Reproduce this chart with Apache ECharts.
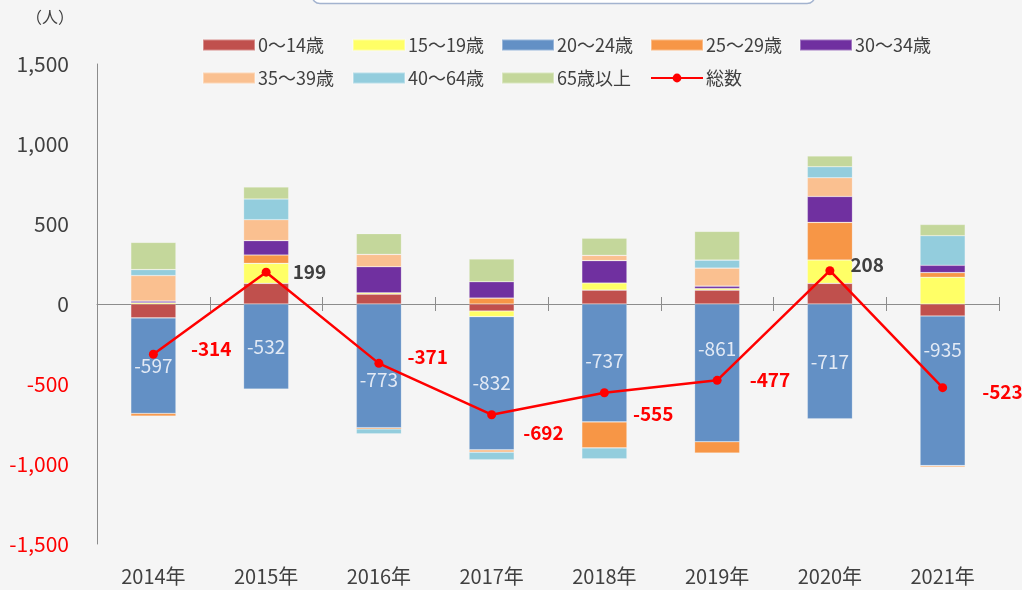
<!DOCTYPE html>
<html>
<head>
<meta charset="utf-8">
<script src="https://cdn.jsdelivr.net/npm/echarts@6/dist/echarts.min.js"></script>
<style>
html,body{margin:0;padding:0;background:#f5f5f5;}
#chart{width:1022px;height:590px;}
</style>
</head>
<body>
<div id="chart"></div>
<script>
// 年次
const years = ['2014年','2015年','2016年','2017年','2018年','2019年','2020年','2021年'];
// 年齢別の転入超過数（人）
const age0to14  = [-87, 129,   62,  -44,   87,   87,  129,  -75];
const age15to19 = [  8, 125,    8,  -35,   44,   10,  146,  167];
const age20to24 = [-597,-532, -773, -832, -737, -861, -717, -935];
const age25to29 = [-17,  52,   -8,   37, -162,  -70,  235,   29];
const age30to34 = [ 10,  90,  163,  102,  140,   15,  162,   46];
const age35to39 = [160, 131,   77,  -16,   33,  112,  117,  -10];
const age40to64 = [ 37, 129,  -30,  -46,  -68,   50,   69,  185];
const age65over = [170,  75,  130,  142,  108,  180,   67,   70];
// 総数
const totals = [-314, 199, -371, -692, -555, -477, 208, -523];
// y軸目盛
const yTicks = {min: -1500, max: 1500, step: 500};

const seriesNames = ['0～14歳','15～19歳','20～24歳','25～29歳','30～34歳','35～39歳','40～64歳','65歳以上'];
const seriesData = [age0to14, age15to19, age20to24, age25to29, age30to34, age35to39, age40to64, age65over];
const colors = ['#c0504d','#ffff66','#6390c5','#f79646','#7030a0','#fac090','#93cddd','#c4d79b'];
// ラベルの位置ずらし（線と重ならないように）
const totalLabelOffsets = [[28,-5],[17,0],[19,-7],[22,18],[19,21],[23,-1],[11,-6],[30,4]];
const blueLabelOffsets = [[0,0],[0,0],[0,14],[0,0],[0,-2],[0,-24],[0,0],[0,-41]];

const font = '"Noto Sans CJK JP", "Noto Sans", sans-serif';
let myChart = echarts.init(document.getElementById('chart'));

let barSeries = seriesNames.map((name, i) => ({
  name: name,
  type: 'bar',
  stack: 'age',
  barWidth: '40%',
  data: i === 2
    ? seriesData[i].map((v, j) => ({value: v, label: {offset: blueLabelOffsets[j]}}))
    : seriesData[i],
  itemStyle: {color: colors[i], borderColor: 'rgba(255,255,255,0.35)', borderWidth: 0.6},
  label: i === 2 ? {
    show: true,
    position: 'inside',
    color: '#e3eaf5',
    fontSize: 19,
    fontFamily: font
  } : {show: false},
  z: 2
}));

let legendPos = [
  [202, 36], [352, 36], [501, 36], [650, 36], [799, 36],
  [202, 69], [352, 69], [501, 69], [650, 69]
];
let legendNames = seriesNames.concat(['総数']);

myChart.setOption({
  backgroundColor: '#f5f5f5',
  textStyle: {fontFamily: font},
  graphic: [{
    type: 'rect',
    shape: {x: 312, y: -20, width: 503, height: 23.5, r: 8},
    style: {fill: '#ffffff', stroke: '#a3b3cf', lineWidth: 1.5}
  }, {
    type: 'text',
    left: 26,
    top: 9,
    style: {text: '（人）', fill: '#404040', fontSize: 16, fontFamily: font}
  }],
  legend: legendNames.map((n, i) => ({
    data: [{name: n, icon: i < 8 ? 'rect' : undefined}],
    left: legendPos[i][0],
    top: legendPos[i][1],
    padding: 0,
    itemWidth: 52,
    itemHeight: 11,
    itemGap: 0,
    textStyle: {fontSize: 18, color: '#404040', fontFamily: font, padding: [0, 0, 0, -2]}
  })),
  grid: {left: 97, right: 23, top: 64, bottom: 46},
  xAxis: [{
    type: 'category',
    data: years,
    axisLine: {onZero: true, lineStyle: {color: '#8c8c8c', width: 1}},
    axisTick: {show: true, length: 7, lineStyle: {color: '#8c8c8c'}},
    axisLabel: {show: false}
  }, {
    // 0の線の上側に出る目盛
    type: 'category',
    data: years,
    position: 'bottom',
    axisLine: {show: true, onZero: true, onZeroAxisIndex: 1, lineStyle: {color: 'rgba(0,0,0,0)'}},
    axisTick: {show: true, inside: true, length: 7, lineStyle: {color: '#8c8c8c'}},
    axisLabel: {show: false}
  }, {
    type: 'category',
    data: years,
    position: 'bottom',
    axisLine: {show: false, onZero: false},
    axisTick: {show: false},
    axisLabel: {show: true, color: '#404040', fontSize: 20, margin: 22, fontFamily: font}
  }],
  yAxis: [{
    type: 'value',
    min: yTicks.min,
    max: yTicks.max,
    interval: yTicks.step,
    axisLine: {show: true, lineStyle: {color: '#8c8c8c', width: 1}},
    axisTick: {show: false},
    splitLine: {show: false},
    axisLabel: {
      fontSize: 21,
      margin: 28,
      fontFamily: font,
      formatter: v => v.toLocaleString('en-US'),
      color: v => (v < 0 ? '#ff0000' : '#404040')
    }
  }, {
    type: 'value',
    min: yTicks.min,
    max: yTicks.max,
    interval: yTicks.step,
    position: 'left',
    axisLine: {show: false},
    axisTick: {show: false},
    axisLabel: {show: false},
    splitLine: {show: false}
  }],
  series: barSeries.concat([{
    name: '総数',
    type: 'line',
    data: totals.map((v, i) => ({
      value: v,
      label: {offset: totalLabelOffsets[i], color: v < 0 ? '#ff0000' : '#404040'}
    })),
    color: '#ff0000',
    symbol: 'circle',
    symbolSize: 9,
    lineStyle: {color: '#ff0000', width: 2.5},
    itemStyle: {color: '#ff0000'},
    label: {
      show: true,
      position: 'right',
      fontSize: 19,
      fontWeight: 'bold',
      fontFamily: font
    },
    z: 5
  }])
});
</script>
</body>
</html>
